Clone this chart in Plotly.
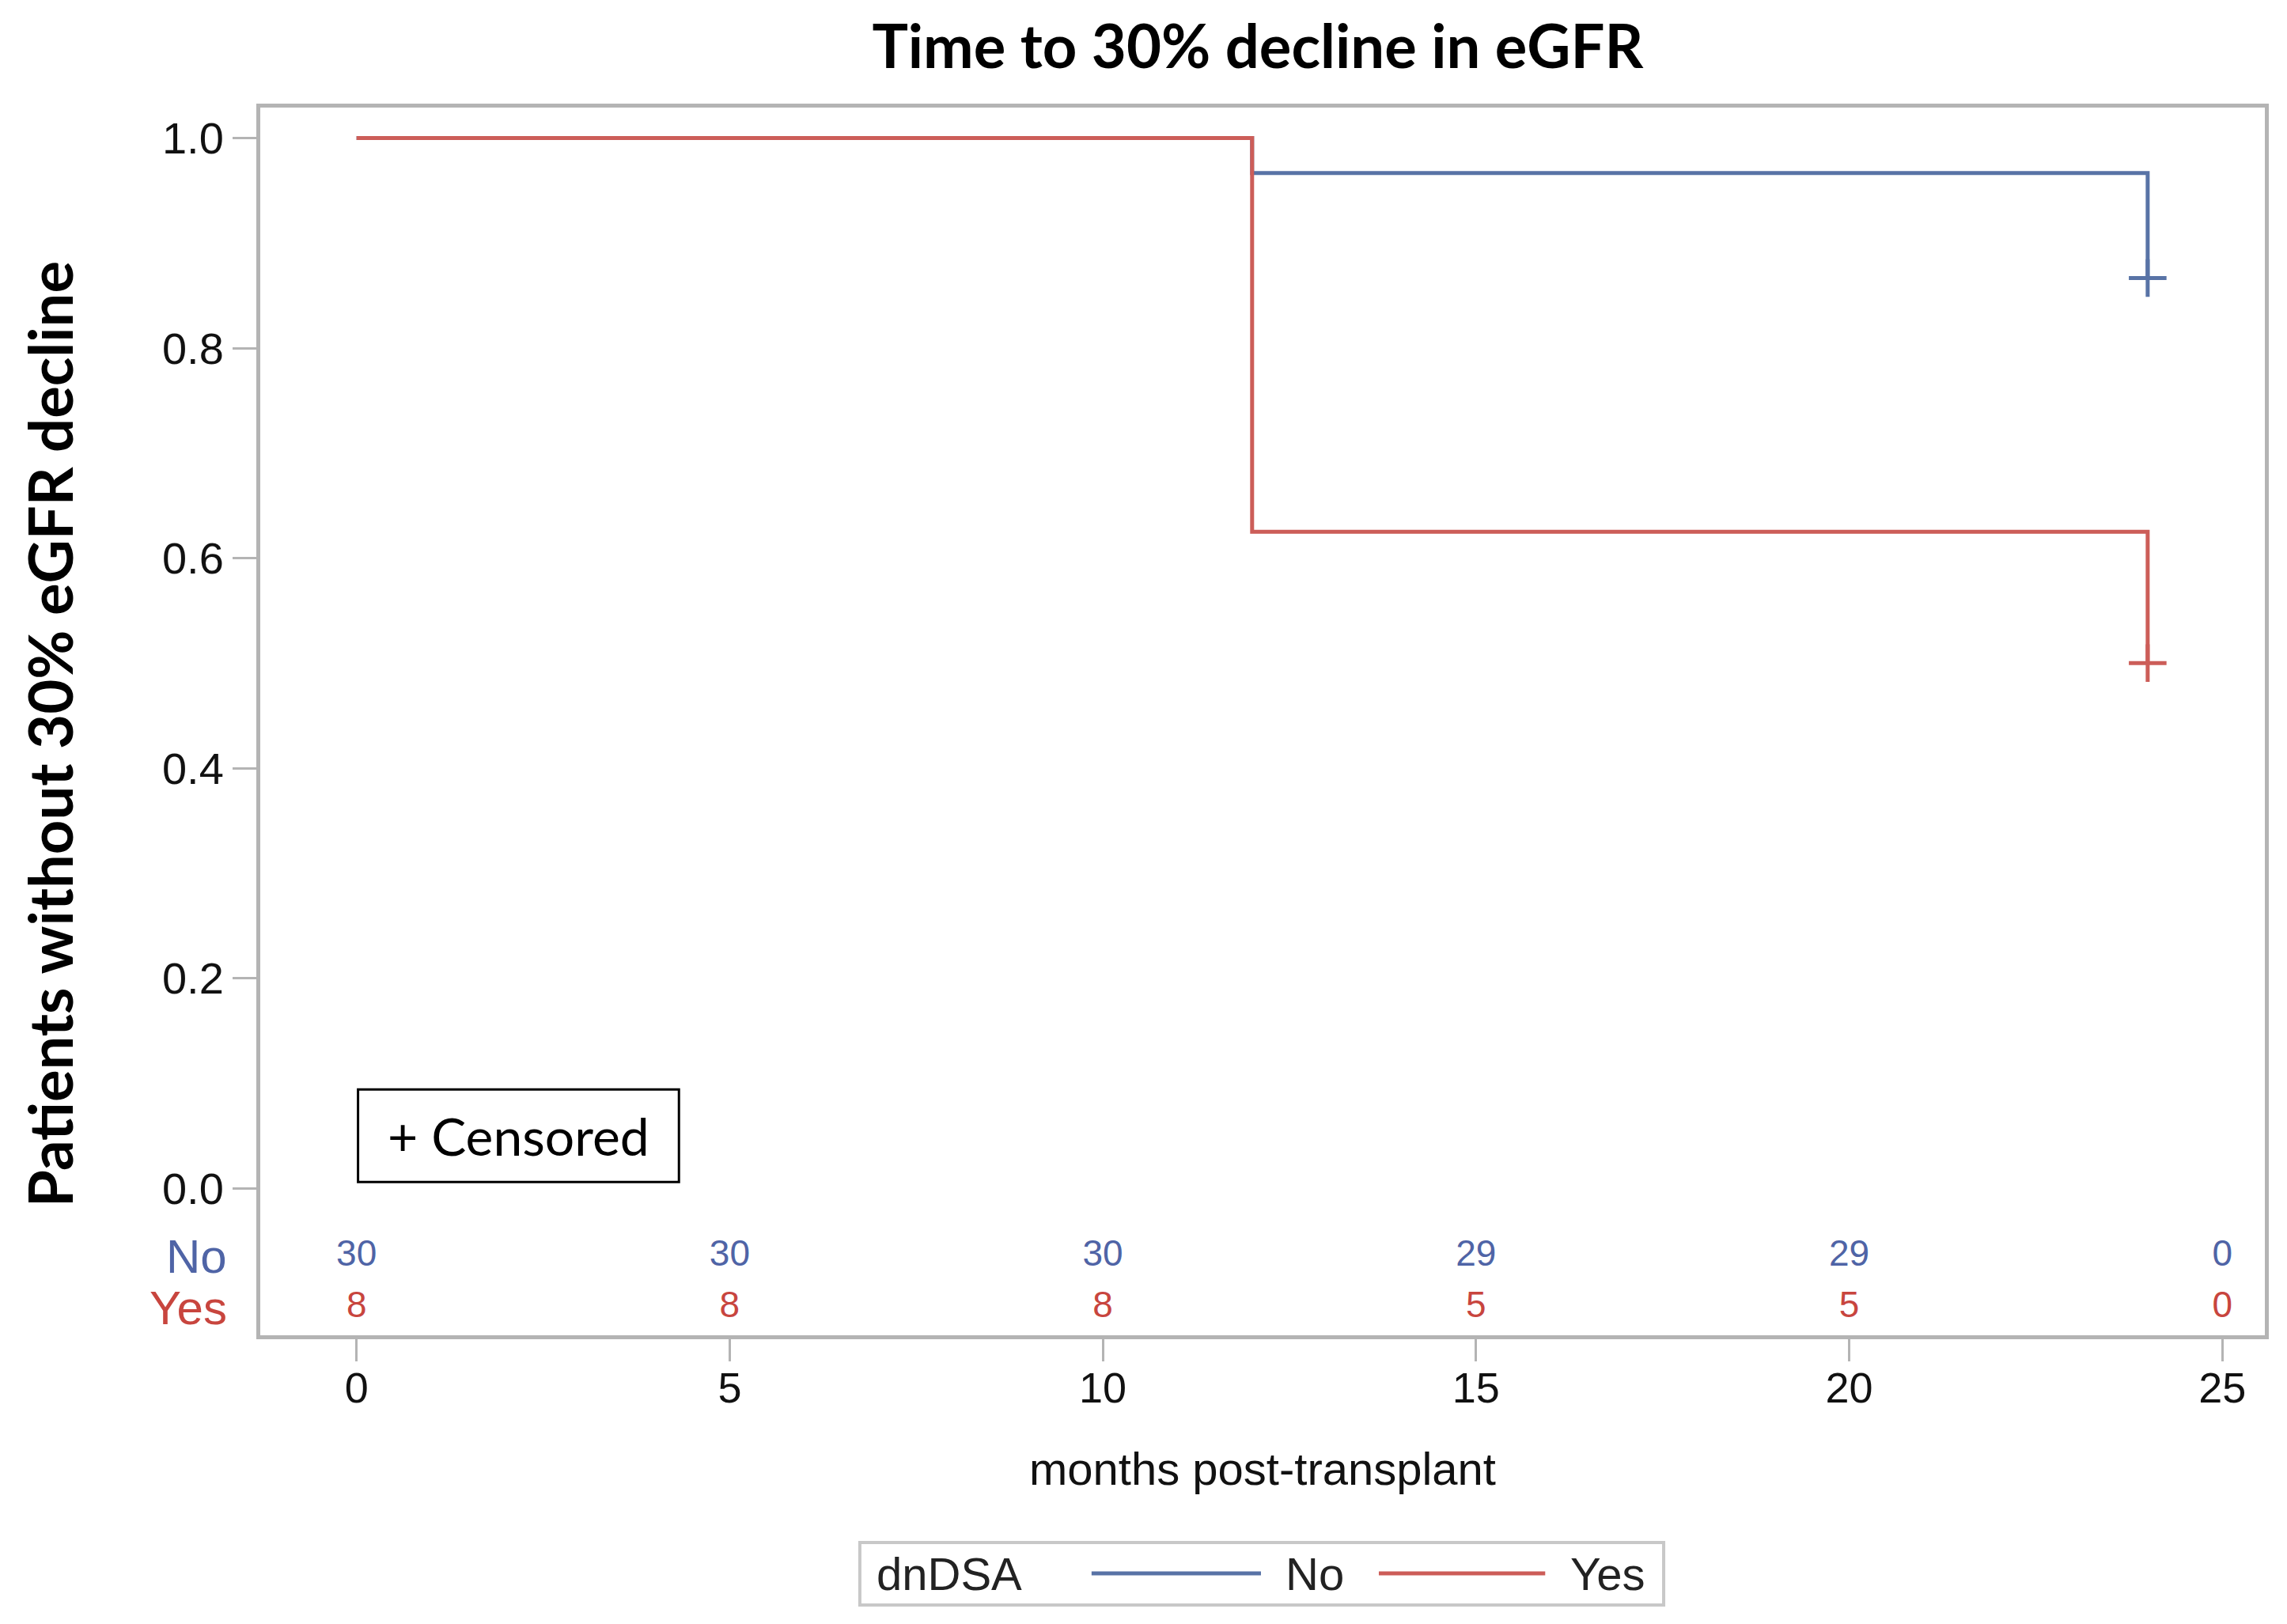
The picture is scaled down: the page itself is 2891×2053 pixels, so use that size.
import plotly.graph_objects as go

# ---- data ----
time_no = [0, 12, 24]
surv_no = [1.0, 0.9667, 0.8667]
time_yes = [0, 12, 24]
surv_yes = [1.0, 0.625, 0.5]
cens_time_no = [24]
cens_surv_no = [0.8667]
cens_time_yes = [24]
cens_surv_yes = [0.5]
risk_times = [0, 5, 10, 15, 20, 25]
risk_no = [30, 30, 30, 29, 29, 0]
risk_yes = [8, 8, 8, 5, 5, 0]
x_ticks = [0, 5, 10, 15, 20, 25]
y_ticks = [0.0, 0.2, 0.4, 0.6, 0.8, 1.0]
y_ticktext = ["0.0", "0.2", "0.4", "0.6", "0.8", "1.0"]
risk_row_y = {"No": -0.065, "Yes": -0.114}

BLUE = "#5873A6"
RED = "#CC5D58"
BLUE_TXT = "#4F64A6"
RED_TXT = "#C8453E"
FRAME = "#B4B4B4"
SANS = "Liberation Sans, Arial, sans-serif"
HUM = "Lato, Noto Sans, sans-serif"

fig = go.Figure()

fig.add_trace(go.Scatter(x=time_no, y=surv_no, mode="lines", line=dict(color=BLUE, width=5, shape="hv"),
                         name="No", showlegend=False))
fig.add_trace(go.Scatter(x=time_yes, y=surv_yes, mode="lines", line=dict(color=RED, width=5, shape="hv"),
                         name="Yes", showlegend=False))
fig.add_trace(go.Scatter(x=cens_time_no, y=cens_surv_no, mode="markers",
                         marker=dict(symbol="cross-thin", size=34, line=dict(color=BLUE, width=5)),
                         showlegend=False))
fig.add_trace(go.Scatter(x=cens_time_yes, y=cens_surv_yes, mode="markers",
                         marker=dict(symbol="cross-thin", size=34, line=dict(color=RED, width=5)),
                         showlegend=False))

# at-risk table
fig.add_trace(go.Scatter(x=risk_times, y=[risk_row_y["No"]] * len(risk_times), mode="text",
                         text=[str(v) for v in risk_no], textposition="middle center",
                         textfont=dict(family=SANS, size=46, color=BLUE_TXT), showlegend=False))
fig.add_trace(go.Scatter(x=risk_times, y=[risk_row_y["Yes"]] * len(risk_times), mode="text",
                         text=[str(v) for v in risk_yes], textposition="middle center",
                         textfont=dict(family=SANS, size=46, color=RED_TXT), showlegend=False))

fig.add_annotation(text="No", xref="paper", yref="y", x=0, y=risk_row_y["No"], xanchor="right",
                   yanchor="middle", xshift=-40, showarrow=False,
                   font=dict(family=SANS, size=60, color=BLUE_TXT))
fig.add_annotation(text="Yes", xref="paper", yref="y", x=0, y=risk_row_y["Yes"], xanchor="right",
                   yanchor="middle", xshift=-40, showarrow=False,
                   font=dict(family=SANS, size=60, color=RED_TXT))

# censored box
fig.add_shape(type="rect", xref="x", yref="y", x0=0.02, x1=4.32, y0=0.006, y1=0.094,
              line=dict(color="black", width=3), fillcolor="white", layer="below")
fig.add_annotation(text="+ Censored", xref="x", yref="y", x=2.17, y=0.05, showarrow=False,
                   yanchor="middle", font=dict(family=HUM, size=66, color="black"))

# y axis title (as annotation for exact placement)
fig.add_annotation(text="Patients without 30% eGFR decline", xref="paper", yref="paper",
                   x=-0.105, y=0.4897, xanchor="center", yanchor="middle", textangle=-90,
                   showarrow=False, font=dict(family=HUM, size=76, color="black", weight=700))

# manual legend
LEG_Y = -0.194
fig.add_shape(type="rect", xref="paper", yref="paper", x0=0.2991, x1=0.7001, y0=-0.2197, y1=-0.1688,
              line=dict(color="#C8C8C8", width=4), fillcolor="white")
fig.add_annotation(text="dnDSA", xref="paper", yref="paper", x=0.3065, y=LEG_Y, xanchor="left",
                   yanchor="middle", showarrow=False, font=dict(family=SANS, size=58, color="#222"))
fig.add_shape(type="line", xref="paper", yref="paper", x0=0.4147, x1=0.4992, y0=LEG_Y, y1=LEG_Y,
              line=dict(color=BLUE, width=5))
fig.add_annotation(text="No", xref="paper", yref="paper", x=0.5107, y=LEG_Y, xanchor="left",
                   yanchor="middle", showarrow=False, font=dict(family=SANS, size=58, color="#222"))
fig.add_shape(type="line", xref="paper", yref="paper", x0=0.558, x1=0.641, y0=LEG_Y, y1=LEG_Y,
              line=dict(color=RED, width=5))
fig.add_annotation(text="Yes", xref="paper", yref="paper", x=0.6527, y=LEG_Y, xanchor="left",
                   yanchor="middle", showarrow=False, font=dict(family=SANS, size=58, color="#222"))

fig.update_layout(
    width=2891, height=2053,
    paper_bgcolor="white", plot_bgcolor="white",
    margin=dict(l=321, r=36, t=128, b=373),
    title=dict(text="Time to 30% decline in eGFR", x=0.4976, xref="paper", y=0.975, yref="container",
               xanchor="center", yanchor="middle",
               font=dict(family=HUM, size=76, color="black", weight=700)),
    showlegend=False,
)
fig.update_xaxes(range=[-1.29, 25.57], tickvals=x_ticks, ticks="outside", ticklen=28, tickwidth=3,
                 tickcolor=FRAME, showline=True, mirror=True, linecolor=FRAME, linewidth=5,
                 showgrid=False, zeroline=False, ticklabelstandoff=-13,
                 tickfont=dict(family=SANS, size=54, color="#111"),
                 title=dict(text="months post-transplant", standoff=55,
                            font=dict(family=SANS, size=58, color="#111")))
fig.update_yaxes(range=[-0.14, 1.029], tickvals=y_ticks, ticktext=y_ticktext, ticks="outside", ticklen=30,
                 tickwidth=3, tickcolor=FRAME, showline=True, mirror=True, linecolor=FRAME, linewidth=5,
                 showgrid=False, zeroline=False,
                 tickfont=dict(family=SANS, size=56, color="#111"))

fig.write_html("out.html")
